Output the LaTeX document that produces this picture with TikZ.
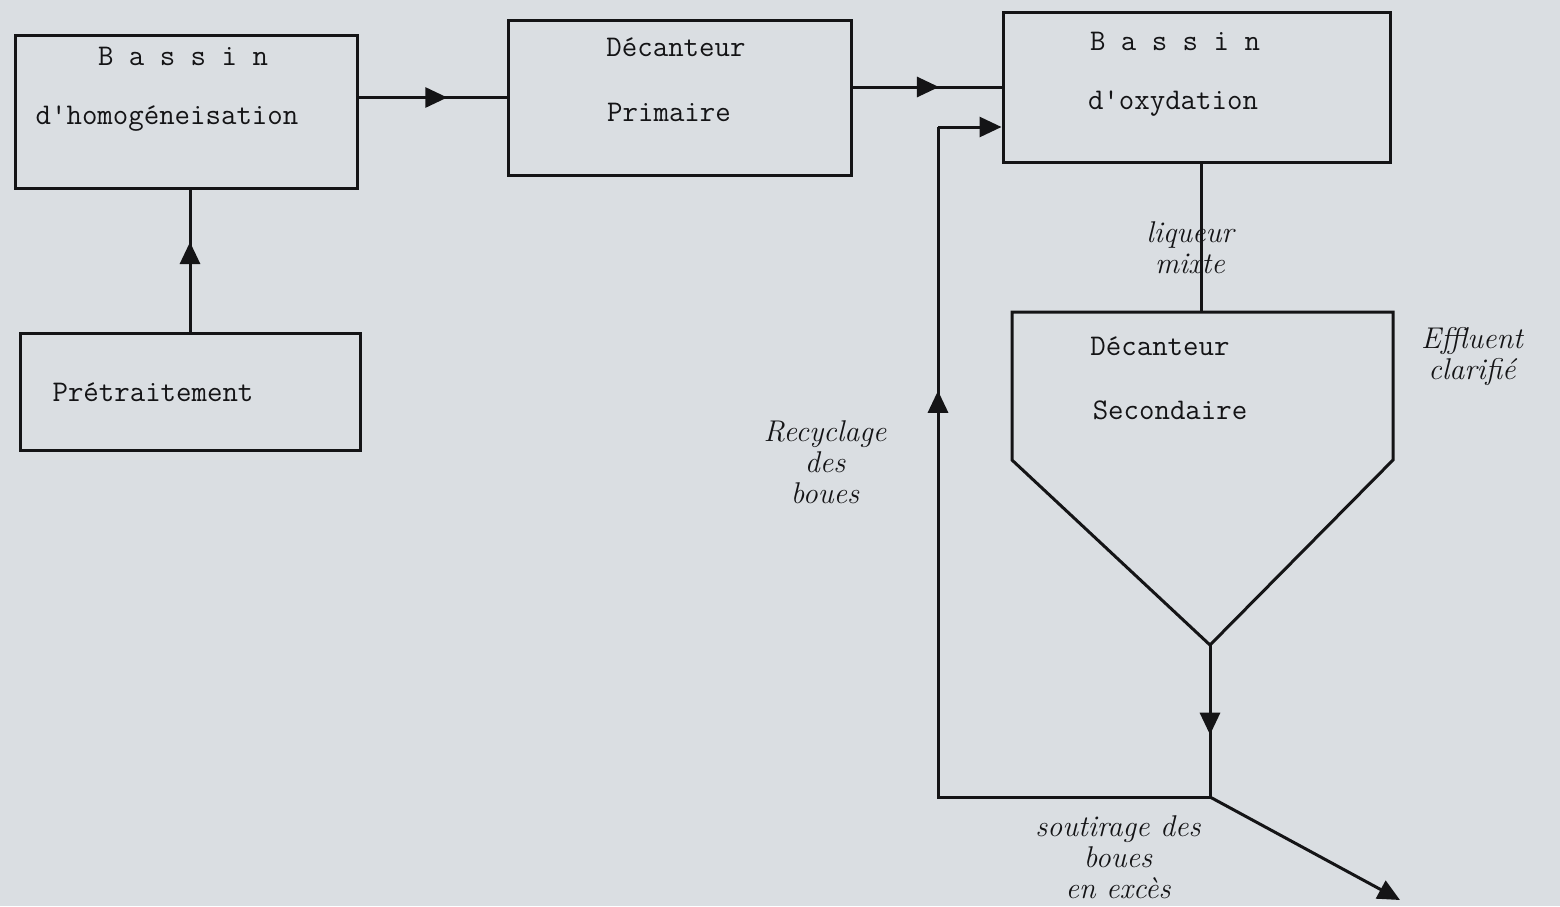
\documentclass[tikz,border=0pt]{standalone}
\usepackage{fontspec}
\usetikzlibrary{arrows.meta,decorations.markings}
\definecolor{paper}{RGB}{218,222,226}
\definecolor{ink}{RGB}{20,20,22}
\tikzset{
  box/.style={draw=ink, line width=1.5pt, rectangle, inner sep=0pt},
  tw/.style={text=ink, font=\fontsize{15}{18}\selectfont\ttfamily, inner sep=0pt},
  hand/.style={text=ink, font=\fontsize{15}{15.5}\selectfont\itshape, align=center, inner sep=0pt},
  wire/.style={draw=ink, line width=1.5pt, line join=miter},
  midarrow/.style={wire, postaction={decorate}, decoration={markings,
      mark=at position #1 with {\arrow{Triangle[length=11pt,width=10pt]}}}},
  endarrow/.style={wire, -{Triangle[length=11pt,width=10pt]}}
}
\begin{document}
\begin{tikzpicture}[x=0.5pt,y=-0.5pt]
\useasboundingbox[fill=paper] (0,0) rectangle (1560,906);

% boxes
\node[box, minimum width=171pt, minimum height=76.5pt] (b1) at (186,111.5) {};
\node[box, minimum width=171.5pt, minimum height=77.5pt] (b2) at (679.5,97.5) {};
\node[box, minimum width=193.5pt, minimum height=75pt] (b3) at (1196.5,87) {};
\node[box, minimum width=170pt, minimum height=58.5pt] (b4) at (190,391.5) {};

% box texts
\node[tw] (t1a) at (183,56) {B a s s i n};
\node[tw] (t1b) at (167,119) {d'homogéneisation};
\node[tw] (t2a) at (676,47) {Décanteur};
\node[tw] (t2b) at (669,112) {Primaire};
\node[tw] (t3a) at (1175,41) {B a s s i n};
\node[tw] (t3b) at (1173,104) {d'oxydation};
\node[tw] (t4) at (153,392) {Prétraitement};

% secondary settler
\coordinate (stl) at (1012,312);
\coordinate (str) at (1393,312);
\coordinate (sbl) at (1012,460);
\coordinate (sbr) at (1393,460);
\coordinate (sb) at (1210,645);
\draw[wire] (stl) -- (str) -- (sbr) -- (sb) -- (sbl) -- cycle;
\node[tw] (t5a) at (1160,346) {Décanteur};
\node[tw] (t5b) at (1170,410) {Secondaire};

% connectors
\draw[midarrow=0.6] (b1.east |- b2.west) -- (b2.west);
\draw[midarrow=0.58] (b2.east |- b3.west) -- (b3.west);
\draw[midarrow=0.63] (b4.north) -- (b4.north |- b1.south);
\coordinate (lq) at (1201,0);
\draw[wire] (lq |- b3.south) -- (lq |- stl);

\coordinate (j) at (1210,797);
\coordinate (rc) at (938,797);
\coordinate (rt) at (938,127);
\coordinate (out) at (1400,900);
\draw[midarrow=0.59] (sb) -- (j);
\draw[midarrow=0.72] (j) -- (rc) -- (rt);
\draw[endarrow] (rt) -- (rt -| b3.west);
\draw[endarrow] (j) -- (out);

% labels
\node[hand] (l1) at (1190,248) {liqueur\\mixte};
\node[hand] (l2) at (1472,356) {Effluent\\clarifié};
\node[hand] (l3) at (825,462) {Recyclage\\des\\boues};
\node[hand] (l4) at (1118,857) {soutirage des\\boues\\en excès};
\end{tikzpicture}
\end{document}
